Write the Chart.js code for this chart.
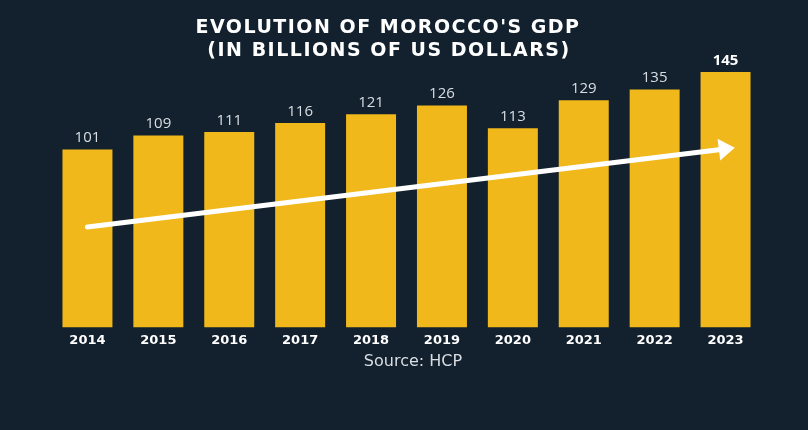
<!DOCTYPE html>
<html>
<head>
<meta charset="utf-8">
<script src="https://cdn.jsdelivr.net/npm/chart.js@4.4.1/dist/chart.umd.min.js"></script>
<style>
  html, body { margin: 0; padding: 0; background: #13212e; }
  #wrap { width: 808px; height: 430px; }
</style>
</head>
<body>
<div id="wrap"><canvas id="gdpChart" width="808" height="430"></canvas></div>
<script>
const years = ["2014", "2015", "2016", "2017", "2018", "2019", "2020", "2021", "2022", "2023"];
const gdp = [101, 109, 111, 116, 121, 126, 113, 129, 135, 145];
const titleLines = ["EVOLUTION OF MOROCCO'S GDP", "(IN BILLIONS OF US DOLLARS)"];
const sourceText = "Source: HCP";
// trend arrow, in [category index, value] units
const arrowFrom = [0, 57];
const arrowTo = [9.13, 102];

const FONT = "'Open Sans', 'DejaVu Sans', sans-serif";
const WIDE = "'DejaVu Sans', sans-serif";

// values above the bars, last one bold white
const valueLabels = {
  id: "valueLabels",
  afterDatasetsDraw(chart) {
    const ctx = chart.ctx;
    const meta = chart.getDatasetMeta(0);
    ctx.save();
    ctx.textAlign = "center";
    ctx.textBaseline = "bottom";
    meta.data.forEach((bar, i) => {
      const last = i === gdp.length - 1;
      ctx.font = (last ? "700 " : "400 ") + "15px " + FONT;
      ctx.fillStyle = last ? "#ffffff" : "#d9dee4";
      ctx.fillText(gdp[i], bar.x, bar.y - 4);
    });
    ctx.restore();
  }
};

const trendArrow = {
  id: "trendArrow",
  afterDatasetsDraw(chart) {
    const ctx = chart.ctx;
    const xs = chart.scales.x, ys = chart.scales.y;
    const x0 = xs.getPixelForValue(arrowFrom[0]), y0 = ys.getPixelForValue(arrowFrom[1]);
    const x1 = xs.getPixelForValue(arrowTo[0]), y1 = ys.getPixelForValue(arrowTo[1]);
    const ang = Math.atan2(y1 - y0, x1 - x0);
    const headLen = 16, headHalf = 11;
    const bx = x1 - headLen * Math.cos(ang), by = y1 - headLen * Math.sin(ang);
    ctx.save();
    ctx.strokeStyle = "#ffffff";
    ctx.fillStyle = "#ffffff";
    ctx.lineWidth = 5;
    ctx.lineCap = "round";
    ctx.beginPath();
    ctx.moveTo(x0, y0);
    ctx.lineTo(bx, by);
    ctx.stroke();
    ctx.beginPath();
    ctx.moveTo(x1, y1);
    ctx.lineTo(bx - headHalf * Math.sin(ang), by + headHalf * Math.cos(ang));
    ctx.lineTo(bx + headHalf * Math.sin(ang), by - headHalf * Math.cos(ang));
    ctx.closePath();
    ctx.fill();
    ctx.restore();
  }
};

// title and source line, drawn off-centre like the original graphic
const captions = {
  id: "captions",
  afterDraw(chart) {
    const ctx = chart.ctx;
    ctx.save();
    ctx.textAlign = "center";
    ctx.textBaseline = "middle";
    ctx.fillStyle = "#ffffff";
    ctx.font = "700 19px " + WIDE;
    if ("letterSpacing" in ctx) ctx.letterSpacing = "1.5px";
    ctx.fillText(titleLines[0], 388, 28);
    ctx.fillText(titleLines[1], 389, 51);
    if ("letterSpacing" in ctx) ctx.letterSpacing = "0px";
    ctx.fillStyle = "#d9dee4";
    ctx.font = "400 16px " + WIDE;
    ctx.fillText(sourceText, 413, 362);
    ctx.restore();
  }
};

const ctx = document.getElementById("gdpChart").getContext("2d");
new Chart(ctx, {
  type: "bar",
  data: {
    labels: years,
    datasets: [{
      data: gdp,
      backgroundColor: "#f0b81b",
      borderWidth: 0,
      barPercentage: 0.705,
      categoryPercentage: 1
    }]
  },
  options: {
    responsive: false,
    animation: false,
    layout: { padding: { left: 52, right: 47, top: 72, bottom: 85 } },
    plugins: {
      legend: { display: false },
      tooltip: { enabled: false },
      title: { display: false }
    },
    scales: {
      x: {
        grid: { display: false },
        border: { display: false },
        ticks: {
          color: "#ffffff",
          font: { family: WIDE, size: 13, weight: "700" },
          padding: -3
        }
      },
      y: {
        display: false,
        min: 0,
        max: 145
      }
    }
  },
  plugins: [valueLabels, trendArrow, captions]
});
</script>
</body>
</html>
